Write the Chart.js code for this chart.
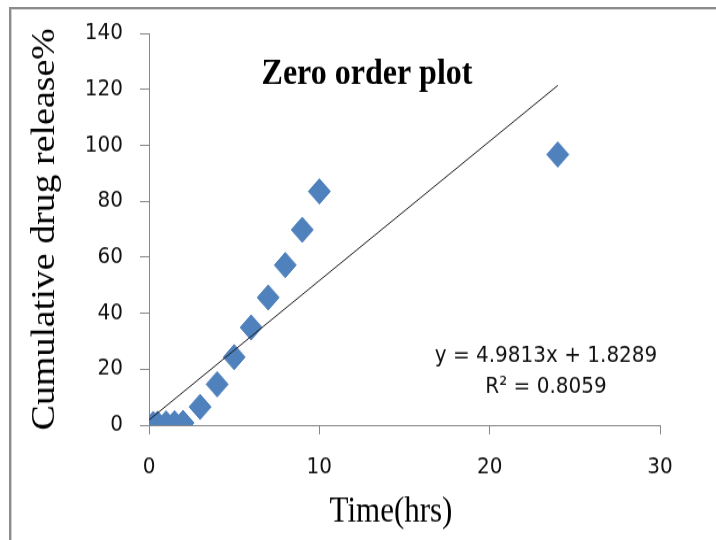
<!DOCTYPE html>
<html lang="en">
<head>
    <meta charset="UTF-8">
    <title>Zero order plot</title>
    <style>
        html, body { margin: 0; padding: 0; background: #fff; overflow: hidden; }
        #frame {
            position: absolute; left: 9px; top: 7px; width: 800px; height: 600px;
            border-top: 2px solid #8c8c8c; border-left: 2px solid #8c8c8c;
            box-shadow: inset 1px 1px 0 #d0d0d0;
        }
        /* the plot is drawn a bit short and stretched to full height */
        #stage {
            position: absolute; left: 0; top: 0; width: 716px; height: 470px;
            transform: scaleY(1.1489); transform-origin: 0 0;
        }
    </style>
</head>
<body>
<div id="frame"></div>
<div id="stage">
    <canvas id="zero-order" width="716" height="470"></canvas>
</div>

<script src="https://cdn.jsdelivr.net/npm/chart.js@4/dist/chart.umd.min.js"></script>
<script>
    // Release data
    const timeHrs = [0.25, 0.5, 1, 1.5, 2, 3, 4, 5, 6, 7, 8, 9, 10, 24];
    const releasePct = [0.4, 0.5, 0.6, 0.7, 0.8, 6.5, 14.6, 24.3, 34.9, 45.6, 57.2, 69.8, 83.5, 96.7];

    // Axis ticks
    const xTicks = [0, 10, 20, 30];
    const yTicks = [0, 20, 40, 60, 80, 100, 120, 140];

    // Linear trendline
    const fitSlope = 4.9813;
    const fitIntercept = 1.8289;
    const fitR2 = 0.8059;
    const fitRange = [0, 24];

    const blue = 'rgb(79, 129, 189)';
    const axisGray = '#868686';
    const serif = '"Liberation Serif", "Times New Roman", serif';
    const sans = '"DejaVu Sans", sans-serif';

    /**
     * Draws the title, the x axis title and the trendline equation
     */
    const plotText = {
        id: 'plotText',
        afterDraw(chart) {
            const ctx = chart.ctx;
            const area = chart.chartArea;
            ctx.save();
            ctx.textAlign = 'center';
            ctx.textBaseline = 'alphabetic';
            ctx.fillStyle = '#000';

            ctx.font = 'bold 32px ' + serif;
            ctx.fillText('Zero order plot', area.left + 218, area.top + 44);

            ctx.font = '31px ' + serif;
            ctx.fillText('Time(hrs)', area.left + 242, area.bottom + 84);

            ctx.fillStyle = '#111';
            ctx.font = '20px ' + sans;
            ctx.fillText(`y = ${fitSlope}x + ${fitIntercept}`, area.left + 397, area.top + 286);
            ctx.fillText(`R² = ${fitR2}`, area.left + 397, area.top + 313);
            ctx.restore();
        }
    };

    let points = timeHrs.map((t, i) => ({ x: t, y: releasePct[i] }));
    let trend = fitRange.map(t => ({ x: t, y: fitSlope * t + fitIntercept }));

    new Chart(document.getElementById('zero-order'), {
        type: 'scatter',
        data: {
            datasets: [{
                type: 'line',
                data: trend,
                borderColor: '#1e1e1e',
                borderWidth: 1,
                pointRadius: 0,
                fill: false,
                order: 0
            }, {
                data: points,
                pointStyle: 'rectRot',
                pointRadius: 11,
                pointBackgroundColor: blue,
                pointBorderColor: blue,
                pointBorderWidth: 1,
                order: 1
            }]
        },
        options: {
            responsive: false,
            animation: false,
            devicePixelRatio: 1,
            layout: { padding: { top: 27, right: 56, left: 0, bottom: 0 } },
            plugins: {
                legend: { display: false },
                tooltip: { enabled: false }
            },
            scales: {
                x: {
                    type: 'linear',
                    min: xTicks[0],
                    max: xTicks[xTicks.length - 1],
                    afterBuildTicks: scale => { scale.ticks = xTicks.map(v => ({ value: v })); },
                    afterFit: scale => { scale.height = 100; },
                    border: { display: true, color: axisGray, width: 1 },
                    grid: { drawOnChartArea: false, drawTicks: true, tickLength: 8, color: axisGray },
                    ticks: { color: '#111', padding: 17, font: { family: sans, size: 20 } }
                },
                y: {
                    type: 'linear',
                    min: yTicks[0],
                    max: yTicks[yTicks.length - 1],
                    afterBuildTicks: scale => { scale.ticks = yTicks.map(v => ({ value: v })); },
                    afterFit: scale => { scale.width = 149; },
                    border: { display: true, color: axisGray, width: 1 },
                    grid: { drawOnChartArea: false, drawTicks: true, tickLength: 9, color: axisGray },
                    ticks: { color: '#111', padding: 17, font: { family: sans, size: 20 } },
                    title: {
                        display: true,
                        text: 'Cumulative drug release%',
                        color: '#000',
                        padding: { top: 26, bottom: 0 },
                        font: { family: serif, size: 33 }
                    }
                }
            }
        },
        plugins: [plotText]
    });
</script>
</body>
</html>
